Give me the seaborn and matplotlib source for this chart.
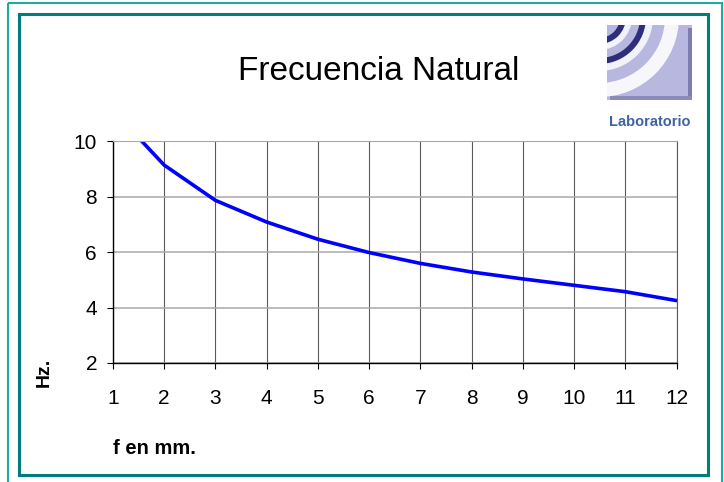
import matplotlib
matplotlib.use("Agg")
import matplotlib.pyplot as plt
from matplotlib.patches import Rectangle, Wedge
import pandas as pd
import seaborn as sns

# deflexion (mm) vs natural frequency (Hz)
deflexion_mm = [1, 2, 3, 4, 5, 6, 7, 8, 9, 10, 11, 12]
frecuencia_hz = [11.1, 9.13, 7.86, 7.08, 6.46, 5.98, 5.59, 5.28, 5.03, 4.80, 4.57, 4.25]
y_ticks = [2, 4, 6, 8, 10]

df = pd.DataFrame({"mm": deflexion_mm, "hz": frecuencia_hz})

sns.set_style("ticks")
plt.rcParams["font.family"] = ["Liberation Sans", "DejaVu Sans"]
plt.rcParams["text.color"] = "black"
plt.rcParams["xtick.color"] = "black"
plt.rcParams["ytick.color"] = "black"

W, H = 724, 482
fig = plt.figure(figsize=(W / 100, H / 100), dpi=100)

# frames (pixel coords)
bg = fig.add_axes([0, 0, 1, 1], zorder=-1)
bg.set_xlim(0, W)
bg.set_ylim(H, 0)
bg.axis("off")
bg.add_patch(Rectangle((8, 2.5), 713.5, 500, fill=False, ec="#1fa9a1", lw=1.5))
bg.add_patch(Rectangle((18.5, 14), 689.5, 461, fill=False, ec="#007f7a", lw=2.2))

# main plot
ax = fig.add_axes([113 / W, 1 - 363 / H, (676.5 - 113) / W, (363 - 141) / H])
sns.lineplot(data=df, x="mm", y="hz", ax=ax, color="#0000ff", lw=2.6)
ax.set_xlim(1, 12)
ax.set_ylim(2, 10)
ax.set_xticks(deflexion_mm)
ax.set_yticks(y_ticks)
ax.set_xlabel("")
ax.set_ylabel("")
ax.xaxis.grid(True, color="#5a5a5a", lw=0.8)
ax.yaxis.grid(True, color="#a8a8a8", lw=1.1)
ax.set_axisbelow(True)
for s in ["left", "bottom"]:
    ax.spines[s].set_color("black")
    ax.spines[s].set_linewidth(1.0)
ax.spines["top"].set_color("#a8a8a8")
ax.spines["right"].set_color("#5a5a5a")
ax.spines["right"].set_linewidth(0.8)
ax.tick_params(axis="both", direction="out", length=4.5, width=0.8, labelsize=15,
               color="black", labelcolor="black")
ax.tick_params(axis="x", pad=14)
ax.tick_params(axis="y", pad=7)

# texts
fig.text(379 / W, 1 - 71 / H, "Frecuencia Natural", fontsize=24, ha="center", va="center")
fig.text(44 / W, 1 - 372 / H, "Hz.", rotation=90, fontsize=14, fontweight="bold",
         ha="center", va="center")
fig.text(113 / W, 1 - 449 / H, "f en mm.", fontsize=14.5, fontweight="bold",
         ha="left", va="center")

# logo
lav = "#b7b7e0"
navy = "#2e2e7a"
logo = fig.add_axes([607 / W, 1 - 100 / H, 85 / W, 75 / H])
logo.set_xlim(0, 85)
logo.set_ylim(75, 0)
logo.axis("off")
logo.add_patch(Rectangle((0, 0), 85, 75, fc=lav, ec="none"))
for r, c in [(80, "#f6f6fb"), (66, lav), (54, "#f2f2f9"), (47, navy), (41, lav),
             (33, "#f2f2f9"), (27, navy), (21, lav)]:
    logo.add_patch(Wedge((-8, -8), r, 0, 90, fc=c, ec="none"))
logo.add_patch(Rectangle((81, 3), 4, 72, fc="#7d7db2", ec="none"))
logo.add_patch(Rectangle((3, 71), 82, 4, fc="#8a8abb", ec="none"))
fig.text(650 / W, 1 - 122 / H, "Laboratorio", color="#3c64a0", fontweight="bold",
         fontsize=10.5, ha="center", va="center")

fig.savefig("out.png", dpi=100)
